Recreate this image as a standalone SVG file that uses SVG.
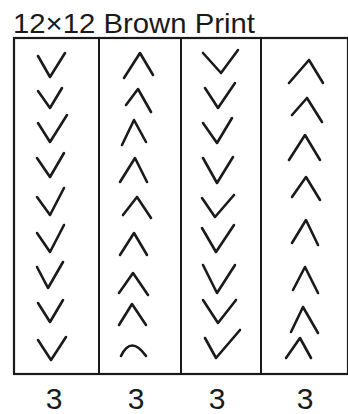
<svg xmlns="http://www.w3.org/2000/svg" width="348" height="414" viewBox="0 0 348 414">
<style>
.frame{fill:none;stroke:#1a1a1a;stroke-width:2.2}
.div{stroke:#1a1a1a;stroke-width:2}
.ch{fill:none;stroke:#1a1a1a;stroke-width:2.6;stroke-linecap:round;stroke-linejoin:round}
.t{font-family:"Liberation Sans",Arial,sans-serif;fill:#1a1a1a}
</style>
<rect width="348" height="414" fill="#ffffff"/>
<text class="t" x="13" y="33" font-size="28" textLength="242" lengthAdjust="spacingAndGlyphs">12×12 Brown Print</text>
<g id="frame">
<rect class="frame" x="14" y="38" width="334" height="336"/>
<line class="div" x1="99" y1="38" x2="99" y2="374"/>
<line class="div" x1="181" y1="38" x2="181" y2="374"/>
<line class="div" x1="261" y1="38" x2="261" y2="374"/>
</g>
<g id="col1">
<path class="ch" d="M38,56 L50,77 L65,53"/>
<path class="ch" d="M38,91 L50,108 L62,88"/>
<path class="ch" d="M38,123 L50,142 L67,115"/>
<path class="ch" d="M37,158 L50,177 L64,153"/>
<path class="ch" d="M37,197 L50,215 L64,188"/>
<path class="ch" d="M37,233 L50,252 L64,225"/>
<path class="ch" d="M37,267 L48,288 L63,262"/>
<path class="ch" d="M38,303 L50,322 L63,300"/>
<path class="ch" d="M38,340 L51,360 L66,337"/>
</g>
<g id="col2">
<path class="ch" d="M124,78 L140,53 L153,75"/>
<path class="ch" d="M126,105 L138,89 L151,112"/>
<path class="ch" d="M122,145 L134,120 L146,142"/>
<path class="ch" d="M120,182 L135,158 L147,182"/>
<path class="ch" d="M123,215 L137,197 L151,218"/>
<path class="ch" d="M120,255 L134,233 L147,255"/>
<path class="ch" d="M119,293 L133,273 L148,295"/>
<path class="ch" d="M119,325 L132,304 L146,325"/>
<path class="ch" d="M121,356 Q131,335 146,356"/>
</g>
<g id="col3">
<path class="ch" d="M203,53 L221,73 L238,50"/>
<path class="ch" d="M205,88 L218,108 L235,83"/>
<path class="ch" d="M203,123 L217,143 L232,118"/>
<path class="ch" d="M203,158 L217,183 L233,157"/>
<path class="ch" d="M202,198 L215,217 L234,195"/>
<path class="ch" d="M202,228 L216,252 L234,225"/>
<path class="ch" d="M203,265 L217,293 L235,265"/>
<path class="ch" d="M203,300 L218,323 L236,300"/>
<path class="ch" d="M205,338 L216,358 L240,330"/>
</g>
<g id="col4">
<path class="ch" d="M289,83 L309,60 L323,83"/>
<path class="ch" d="M292,115 L307,98 L322,122"/>
<path class="ch" d="M289,160 L305,135 L320,160"/>
<path class="ch" d="M292,197 L306,177 L320,200"/>
<path class="ch" d="M292,243 L306,220 L318,245"/>
<path class="ch" d="M293,290 L305,267 L318,293"/>
<path class="ch" d="M291,332 L303,307 L318,333"/>
<path class="ch" d="M286,358 L300,338 L311,358"/>
</g>
<g id="labels">
<text class="t" x="54" y="409" font-size="30" text-anchor="middle">3</text>
<text class="t" x="136" y="409" font-size="30" text-anchor="middle">3</text>
<text class="t" x="217" y="409" font-size="30" text-anchor="middle">3</text>
<text class="t" x="305" y="409" font-size="30" text-anchor="middle">3</text>
</g>
</svg>
